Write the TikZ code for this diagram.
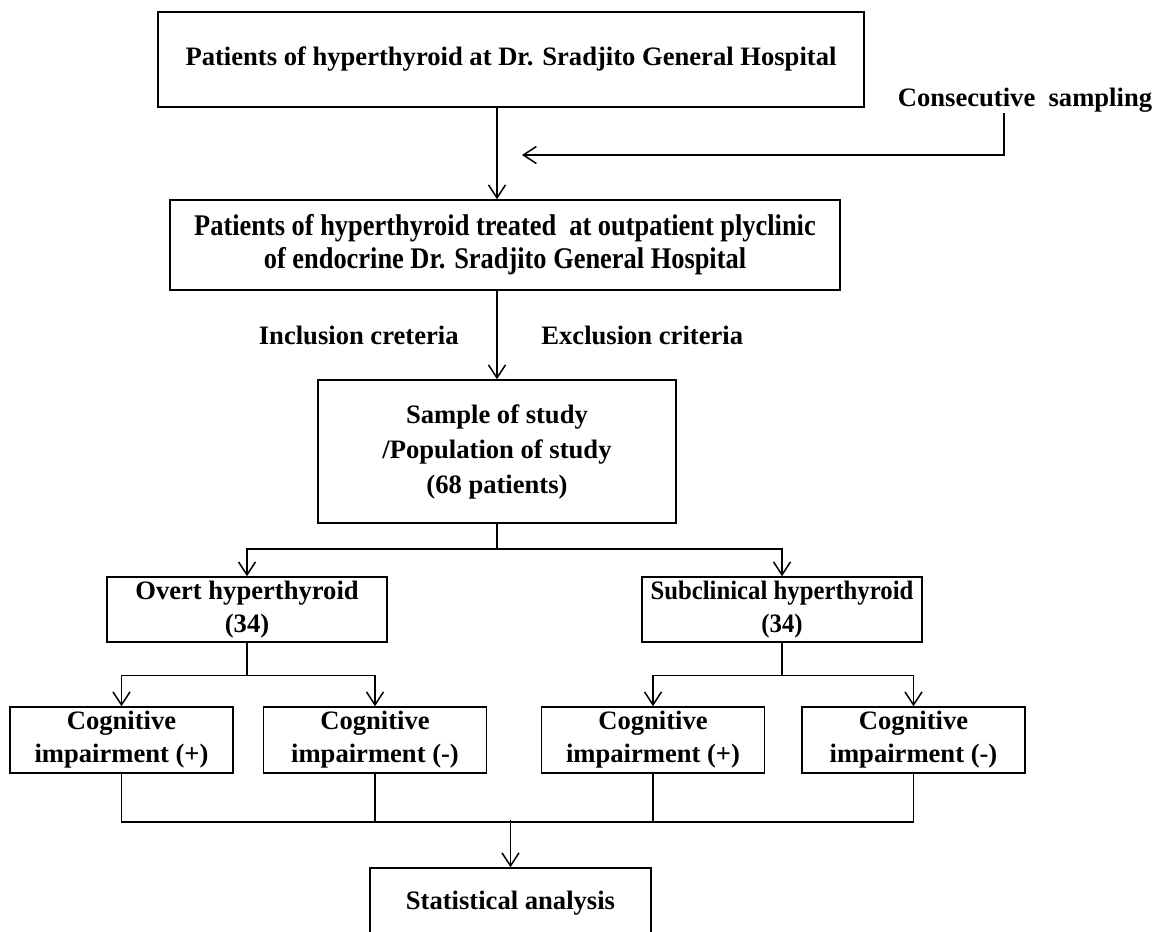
\documentclass[tikz,border=0pt]{standalone}
\usepackage{fontspec}
\setmainfont{Liberation Serif}
\newfontfamily\narrowserif[FakeStretch=0.88]{Liberation Serif}
\newfontfamily\tightserif[FakeStretch=0.93]{Liberation Serif}
\usepackage{tikz}
\usetikzlibrary{arrows.meta, positioning}

\begin{document}
\begin{tikzpicture}[x=0.5pt, y=-0.5pt,
    box/.style={draw, line width=0.75pt, align=center, inner sep=0pt, font=\bfseries\fontsize{13.3}{16.5}\selectfont},
    lbl/.style={inner sep=0pt, font=\bfseries\fontsize{13.3}{16.5}\selectfont},
    arr/.style={-{Straight Barb[length=6.5pt, width=8.5pt]}, line width=0.75pt},
    link/.style={line width=0.75pt}]
    \useasboundingbox (0,0) rectangle (1158,932);

    % Population
    \node[box, minimum width=353pt, minimum height=47.5pt] (pop) at (511, 59.5) {Patients of hyperthyroid at Dr. Sradjito General Hospital};
    \node[lbl] (samp) at (1025, 100) {Consecutive~ sampling};

    % Outpatient clinic
    \node[box, minimum width=335pt, minimum height=45pt, font=\narrowserif\bfseries\fontsize{15}{16.5}\selectfont] (clinic) at (505, 245) {Patients of hyperthyroid treated~ at outpatient plyclinic\\of endocrine Dr. Sradjito General Hospital};

    % Criteria
    \node[lbl, anchor=east] (incl) at (459, 335) {Inclusion creteria};
    \node[lbl, anchor=west] (excl) at (541, 335) {Exclusion criteria};

    % Sample
    \node[box, minimum width=179pt, minimum height=71.5pt, font=\bfseries\fontsize{13.3}{17.5}\selectfont] (sample) at (497, 451.5) {Sample of study\\/Population of study\\(68 patients)};

    % Groups
    \node[box, minimum width=140pt, minimum height=32.5pt] (overt) at (247, 609.5) {Overt hyperthyroid\\(34)};
    \node[box, minimum width=140pt, minimum height=32.5pt, font=\tightserif\bfseries\fontsize{13.3}{16.5}\selectfont] (subcl) at (782, 609.5) {Subclinical hyperthyroid\\(34)};

    % Cognitive outcome
    \node[box, minimum width=111.5pt, minimum height=33pt] (cogA) at (121.5, 740) {Cognitive\\impairment (+)};
    \node[box, minimum width=111.5pt, minimum height=33pt] (cogB) at (375, 740) {Cognitive\\impairment (-)};
    \node[box, minimum width=111.5pt, minimum height=33pt] (cogC) at (653, 740) {Cognitive\\impairment (+)};
    \node[box, minimum width=111.5pt, minimum height=33pt] (cogD) at (913.5, 740) {Cognitive\\impairment (-)};

    % Analysis
    \node[box, minimum width=140.5pt, minimum height=35pt] (stat) at (510.5, 903) {Statistical analysis};

    % Flow
    \coordinate (sdrop) at (1004, 113);
    \coordinate (sjoin) at (522, 155);
    \draw[arr] (pop.south -| sample.north) -- (clinic.north -| sample.north);
    \draw[arr] (sdrop) |- (sjoin);
    \draw[arr] (clinic.south -| sample.north) -- (sample.north);
    \draw[arr] (sample.south) -- ++(0, 25) -| (overt.north);
    \draw[arr] (sample.south) -- ++(0, 25) -| (subcl.north);
    \draw[arr] (overt.south) -- ++(0, 32.5) -| (cogA.north);
    \draw[arr] (overt.south) -- ++(0, 32.5) -| (cogB.north);
    \draw[arr] (subcl.south) -- ++(0, 32.5) -| (cogC.north);
    \draw[arr] (subcl.south) -- ++(0, 32.5) -| (cogD.north);
    \draw[link] (cogA.south) -- ++(0, 48) -| (cogD.south);
    \draw[link] (cogB.south) -- ++(0, 48);
    \draw[link] (cogC.south) -- ++(0, 48);
    \draw[arr] (stat.north) ++(0, -47) -- (stat.north);
\end{tikzpicture}
\end{document}
